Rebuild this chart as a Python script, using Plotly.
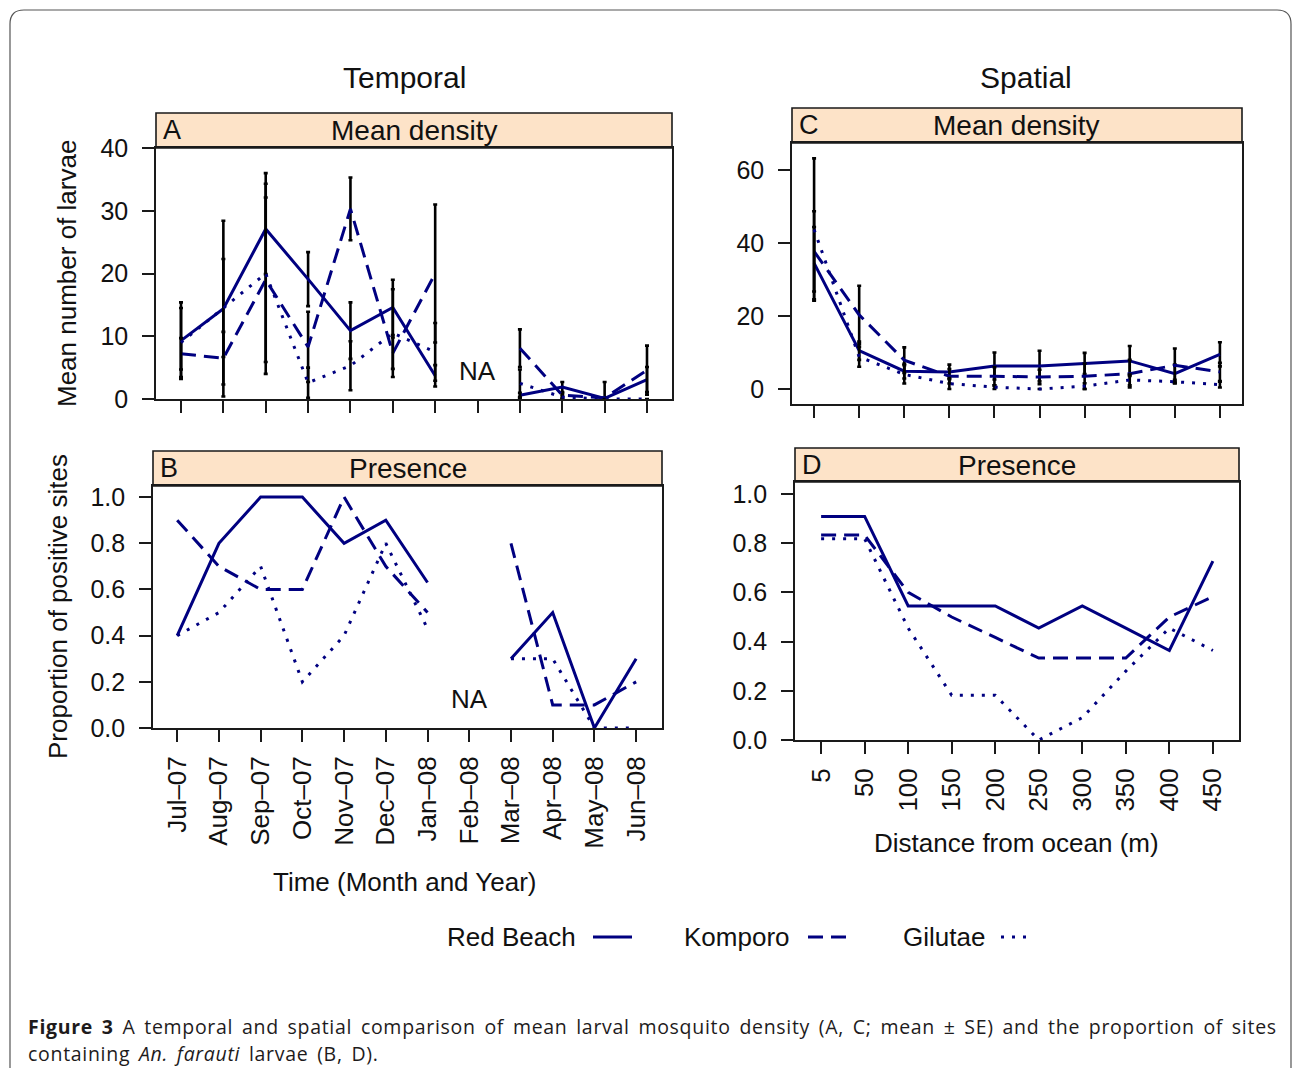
import plotly.graph_objects as go

W, H = 1293, 1068

# ---------------- data ----------------
months = ["Jul–07", "Aug–07", "Sep–07", "Oct–07", "Nov–07", "Dec–07",
          "Jan–08", "Feb–08", "Mar–08", "Apr–08", "May–08", "Jun–08"]
distances = ["5", "50", "100", "150", "200", "250", "300", "350", "400", "450"]

# Panel A: temporal mean density (mean, SE)
a_red = [9.3, 14.4, 27.1, 19.1, 10.9, 14.6, 3.7, None, 0.6, 1.9, 0.1, 3.1]
a_red_se = [6.1, 14.0, 7.2, 4.3, 4.5, 4.4, 1.7, None, 0.4, 0.8, 0.0, 2.0]
a_kom = [7.2, 6.5, 19.0, 8.3, 30.3, 7.3, 20.0, None, 8.1, 0.6, 0.2, 4.6]
a_kom_se = [2.5, 4.2, 13.1, 5.6, 5.0, 2.5, 11.0, None, 3.0, 0.4, 2.5, 3.9]
a_gil = [9.0, 14.5, 20.0, 2.6, 5.3, 10.5, 7.5, None, 2.5, 0.3, 0.0, 0.0]
a_gil_se = [5.5, 7.8, 16.0, 2.4, 3.9, 7.0, 4.6, None, 2.2, 0.3, 0.0, 0.0]

# Panel B: temporal presence
b_red = [0.40, 0.80, 1.00, 1.00, 0.80, 0.90, 0.63, None, 0.30, 0.50, 0.00, 0.30]
b_kom = [0.90, 0.70, 0.60, 0.60, 1.00, 0.70, 0.50, None, 0.80, 0.10, 0.10, 0.20]
b_gil = [0.40, 0.50, 0.70, 0.20, 0.40, 0.80, 0.43, None, 0.30, 0.30, 0.00, 0.00]

# Panel C: spatial mean density (mean, SE)
c_red = [34.5, 10.5, 4.9, 4.7, 6.3, 6.3, 7.0, 7.7, 4.2, 9.5]
c_red_se = [9.9, 2.5, 2.0, 2.0, 3.7, 4.2, 2.9, 4.1, 2.5, 3.3]
c_kom = [37.7, 20.3, 7.9, 3.5, 3.5, 3.3, 3.5, 4.2, 6.5, 4.7]
c_kom_se = [11.0, 8.0, 3.5, 2.0, 2.5, 2.0, 3.5, 3.8, 4.6, 2.5]
c_gil = [43.7, 8.8, 4.0, 1.5, 0.5, 0.0, 0.8, 2.5, 2.0, 1.2]
c_gil_se = [19.5, 2.7, 2.5, 1.5, 0.5, 0.0, 0.8, 1.5, 0.5, 0.8]

# Panel D: spatial presence
d_red = [0.909, 0.909, 0.545, 0.545, 0.545, 0.455, 0.545, 0.455, 0.364, 0.727]
d_kom = [0.833, 0.833, 0.600, 0.500, 0.417, 0.333, 0.333, 0.333, 0.500, 0.583]
d_gil = [0.818, 0.818, 0.455, 0.182, 0.182, 0.000, 0.091, 0.280, 0.455, 0.364]

sites = ["Red Beach", "Komporo", "Gilutae"]

# ---------------- styling ----------------
NAVY = "#000080"
DASHES = {"Red Beach": "solid", "Komporo": "15px,8px", "Gilutae": "3px,8px"}
FONT = "Liberation Sans, Arial, sans-serif"
STRIP = "#FDE3C8"
TXT = "#111111"


def px_x(p):
    return p / W


def px_y(p):
    return 1 - p / H


fig = go.Figure()

mx = list(range(len(months)))
dx = list(range(len(distances)))

panels = {
    "A": dict(x=mx, series=[a_red, a_kom, a_gil], se=[a_red_se, a_kom_se, a_gil_se], ax="1"),
    "B": dict(x=mx, series=[b_red, b_kom, b_gil], se=None, ax="2"),
    "C": dict(x=dx, series=[c_red, c_kom, c_gil], se=[c_red_se, c_kom_se, c_gil_se], ax="3"),
    "D": dict(x=dx, series=[d_red, d_kom, d_gil], se=None, ax="4"),
}


def sfx(n):
    return n if n != "1" else ""


for key, p in panels.items():
    for i, name in enumerate(sites):
        err = None
        if p["se"] is not None:
            err = dict(type="data", array=p["se"][i], symmetric=True, visible=True,
                       color="black", thickness=2.6, width=2)
        fig.add_trace(go.Scatter(
            x=p["x"], y=p["series"][i], mode="lines", name=name,
            line=dict(color=NAVY, width=3, dash=DASHES[name]),
            error_y=err, connectgaps=False, showlegend=False,
            xaxis="x" + sfx(p["ax"]), yaxis="y" + sfx(p["ax"]),
        ))

# geometry (pixels)
geo = {
    "A": dict(x0=156, x1=672, top=148, bot=399, stop=113),
    "B": dict(x0=153, x1=662, top=486, bot=728, stop=451),
    "C": dict(x0=792, x1=1242, top=143, bot=404, stop=108),
    "D": dict(x0=795, x1=1239, top=482, bot=740, stop=448),
}

axis_common = dict(showgrid=False, zeroline=False, showline=True, mirror=True,
                   linecolor="#1a1a1a", linewidth=1.6, ticks="outside", ticklen=12,
                   tickwidth=1.6, tickcolor="#1a1a1a", automargin=False)

layout = dict(width=W, height=H,
              margin=dict(l=0, r=0, t=0, b=0, pad=0, autoexpand=False),
              paper_bgcolor="white", plot_bgcolor="white", showlegend=False)

xranges = {"A": [-0.59, 11.59], "B": [-0.58, 11.62], "C": [-0.49, 9.49], "D": [-0.6, 9.6]}
yranges = {"A": [0, 40], "B": [0, 1.048], "C": [-4.1, 67.4], "D": [0, 1.049]}
yticks = {"A": [0, 10, 20, 30, 40], "B": [0, 0.2, 0.4, 0.6, 0.8, 1.0],
          "C": [0, 20, 40, 60], "D": [0, 0.2, 0.4, 0.6, 0.8, 1.0]}

for key, g in geo.items():
    n = panels[key]["ax"]
    xa = dict(axis_common)
    ya = dict(axis_common)
    labels = months if key in ("A", "B") else distances
    xa.update(domain=[px_x(g["x0"]), px_x(g["x1"])], range=xranges[key],
              tickvals=panels[key]["x"], ticktext=labels, tickangle=-90,
              showticklabels=key in ("B", "D"), ticklabelstandoff=4,
              tickfont=dict(family=FONT, size=26, color=TXT),
              anchor="y" + sfx(n))
    ya.update(domain=[px_y(g["bot"]), px_y(g["top"])], range=yranges[key],
              tickvals=yticks[key], ticklabelstandoff=9,
              tickfont=dict(family=FONT, size=25, color=TXT),
              ticktext=[("%.1f" % v) if key in ("B", "D") else str(v) for v in yticks[key]],
              anchor="x" + sfx(n))
    layout["xaxis" + sfx(n)] = xa
    layout["yaxis" + sfx(n)] = ya

fig.update_layout(**layout)

shapes = []
annotations = []


def note(text, x, y, size=26, xanchor="center", yanchor="middle", angle=0, family=FONT,
         color=TXT, xref="paper", yref="paper"):
    annotations.append(dict(text=text, xref=xref, yref=yref, x=x, y=y, xanchor=xanchor,
                            yanchor=yanchor, textangle=angle, showarrow=False,
                            font=dict(family=family, size=size, color=color)))


strip_titles = {"A": "Mean density", "B": "Presence", "C": "Mean density", "D": "Presence"}
for key, g in geo.items():
    shapes.append(dict(type="rect", xref="paper", yref="paper",
                       x0=px_x(g["x0"]), x1=px_x(g["x1"]),
                       y0=px_y(g["top"]), y1=px_y(g["stop"]),
                       fillcolor=STRIP, line=dict(color="#1a1a1a", width=1.6), layer="below"))
    yc = px_y((g["top"] + g["stop"]) / 2)
    note(key, px_x(g["x0"] + 5), yc, size=27, xanchor="left")
    note(strip_titles[key], px_x((g["x0"] + g["x1"]) / 2), yc, size=28)

# NA labels (data coords at Feb-08)
note("NA", 7, 4.5, xref="x", yref="y")
note("NA", 7, 0.125, xref="x2", yref="y2")

# column titles
note("Temporal", px_x(405), px_y(78), size=30)
note("Spatial", px_x(1026), px_y(78), size=30)

# axis titles
note("Mean number of larvae", px_x(67), px_y(274), angle=-90)
note("Proportion of positive sites", px_x(58), px_y(607), angle=-90)
note("Time (Month and Year)", px_x(405), px_y(882))
note("Distance from ocean (m)", px_x(1017), px_y(843))

# legend (text followed by line sample)
legend_items = [("Red Beach", 578, 593, 632), ("Komporo", 792, 808, 848), ("Gilutae", 987, 1001, 1031)]
for name, tx, l0, l1 in legend_items:
    note(name, px_x(tx), px_y(937), xanchor="right")
    shapes.append(dict(type="line", xref="paper", yref="paper",
                       x0=px_x(l0), x1=px_x(l1), y0=px_y(937), y1=px_y(937),
                       line=dict(color=NAVY, width=3, dash=DASHES[name])))

# caption
CAP = "Open Sans, DejaVu Sans, sans-serif"
SP = '<span style="letter-spacing:0.7px;word-spacing:3px">'
note(SP + "<b>Figure 3</b> A temporal and spatial comparison of mean larval mosquito density "
     "(A, C; mean ± SE) and the proportion of sites</span>",
     px_x(26), px_y(1026), size=19.5, xanchor="left", family=CAP, color="#1e1b1c")
note(SP + "containing <i>An. farauti</i> larvae (B, D).</span>",
     px_x(26), px_y(1053), size=19.5, xanchor="left", family=CAP, color="#1e1b1c")


# outer rounded frame
def P(x, y):
    return "%.5f,%.5f" % (px_x(x), px_y(y))


path = ("M " + P(10, 1075) + " L " + P(10, 24) + " Q " + P(10, 10) + " " + P(24, 10) +
        " L " + P(1277, 10) + " Q " + P(1291, 10) + " " + P(1291, 24) + " L " + P(1291, 1075))
shapes.append(dict(type="path", xref="paper", yref="paper", path=path,
                   line=dict(color="#555", width=1.2)))

fig.update_layout(shapes=shapes, annotations=annotations)

fig.write_html("out.html")
